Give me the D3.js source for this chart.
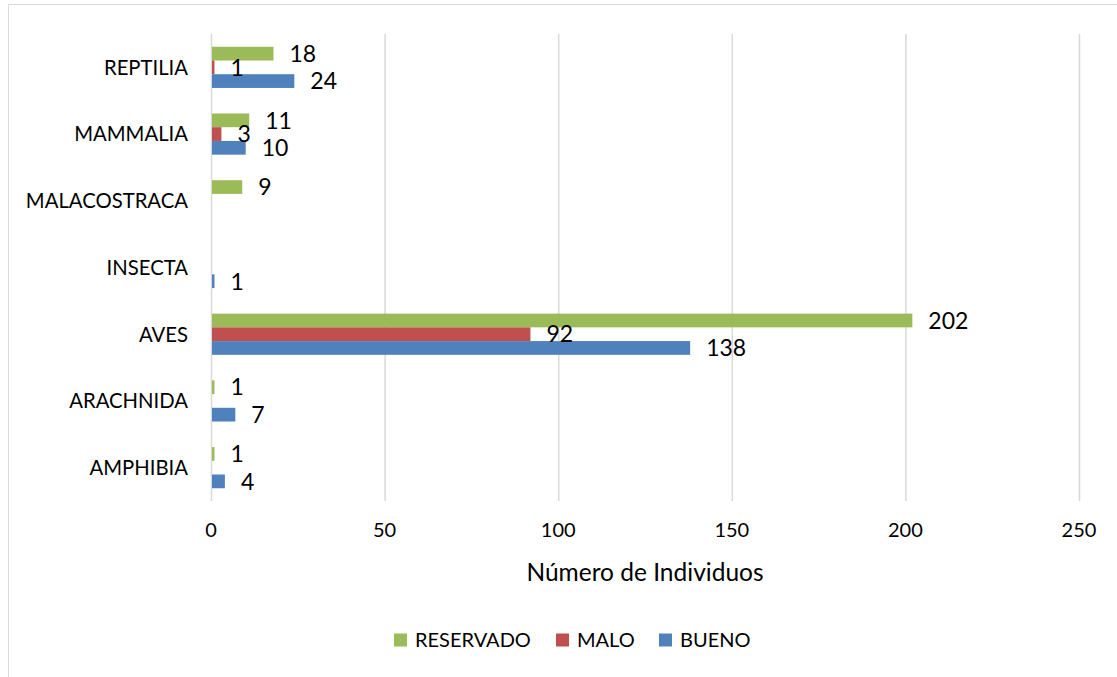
<!DOCTYPE html>
<html><head><meta charset="utf-8">
<script src="https://cdn.jsdelivr.net/npm/d3@7"></script>
<style>body{margin:0;background:#fff}svg{display:block}text{font-family:Lato,"Open Sans",sans-serif;fill:#000}</style>
</head><body><svg id="c" width="1117" height="677"></svg>
<script>
const categories = ["REPTILIA","MAMMALIA","MALACOSTRACA","INSECTA","AVES","ARACHNIDA","AMPHIBIA"];
const seriesNames = ["RESERVADO","MALO","BUENO"];
const reservado = [18, 11, 9, null, 202, 1, 1];
const malo = [1, 3, null, null, 92, null, null];
const bueno = [24, 10, null, 1, 138, 7, 4];
const xTicks = [0, 50, 100, 150, 200, 250];
const colors = ["#9BBB59","#C0504D","#4F81BD"];
const axisTitle = "Número de Individuos";

const svg = d3.select("#c");
svg.append("path").attr("d","M8.5,677 V4.5 H1117").attr("fill","none").attr("stroke","#d9d9d9").attr("stroke-width",1);

const x = d3.scaleLinear().domain([0,250]).range([211,1079]);
const y = d3.scaleBand().domain(categories).range([34,501]);
const inner = d3.scaleBand().domain(seriesNames).range([0,y.bandwidth()]).paddingInner(0).paddingOuter(0.93);

svg.append("g").selectAll("line").data(xTicks).join("line")
  .attr("x1",d=>x(d)+0.5).attr("x2",d=>x(d)+0.5).attr("y1",34).attr("y2",501)
  .attr("stroke","#d9d9d9").attr("stroke-width",1.5);

const series = [reservado, malo, bueno];
const data = [];
series.forEach((arr,si)=>arr.forEach((v,ci)=>{ if(v!=null) data.push({s:seriesNames[si],si,c:categories[ci],v}); }));

svg.append("g").selectAll("rect").data(data).join("rect")
  .attr("x",x(0)+1).attr("y",d=>y(d.c)+inner(d.s))
  .attr("width",d=>Math.max(0,x(d.v)-x(0)-1)).attr("height",inner.bandwidth())
  .attr("fill",d=>colors[d.si]);

svg.append("g").selectAll("text").data(data).join("text")
  .attr("x",d=>x(d.v)+16).attr("y",d=>y(d.c)+inner(d.s)+inner.bandwidth()/2)
  .attr("dy","0.36em").attr("font-size",23).text(d=>d.v);

svg.append("g").selectAll("text").data(categories).join("text")
  .attr("x",188).attr("y",d=>y(d)+y.bandwidth()/2).attr("dy","0.36em")
  .attr("text-anchor","end").attr("font-size",20.3).text(d=>d);

svg.append("g").selectAll("text").data(xTicks).join("text")
  .attr("x",d=>x(d)).attr("y",530).attr("dy","0.36em")
  .attr("text-anchor","middle").attr("font-size",20).text(d=>d);

svg.append("text").attr("x",645).attr("y",572).attr("dy","0.36em")
  .attr("text-anchor","middle").attr("font-size",24.5).text(axisTitle);

const legX = [394, 556, 659];
const lg = svg.append("g").selectAll("g").data(seriesNames).join("g")
  .attr("transform",(d,i)=>`translate(${legX[i]},640)`);
lg.append("rect").attr("x",0).attr("y",-6.5).attr("width",13).attr("height",13).attr("fill",(d,i)=>colors[i]);
lg.append("text").attr("x",21).attr("y",0).attr("dy","0.36em").attr("font-size",20).text(d=>d);
</script></body></html>
